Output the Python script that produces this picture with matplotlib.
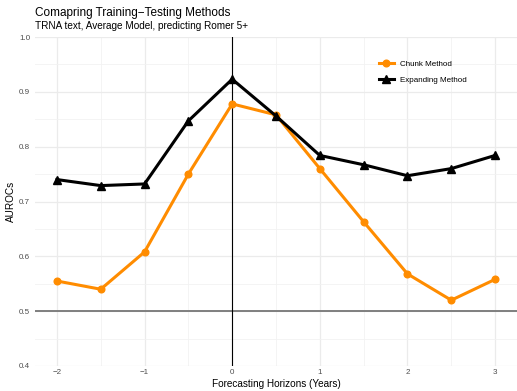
import matplotlib.pyplot as plt
from matplotlib.ticker import MultipleLocator

plt.rcParams['font.family'] = ['Liberation Sans', 'DejaVu Sans']

# forecasting horizons in years
horizons = [-2, -1.5, -1, -0.5, 0, 0.5, 1, 1.5, 2, 2.5, 3]

# AUROC per training-testing scheme
chunk_auroc = [0.555, 0.540, 0.608, 0.750, 0.878, 0.858, 0.760, 0.663, 0.568, 0.520, 0.558]
expanding_auroc = [0.740, 0.729, 0.732, 0.847, 0.923, 0.856, 0.784, 0.767, 0.747, 0.760, 0.784]

x_ticks = [-2, -1, 0, 1, 2, 3]
y_ticks = [0.4, 0.5, 0.6, 0.7, 0.8, 0.9, 1.0]

W, H = 517, 391
left, top, bottom = 35, 37, 366
fig = plt.figure(figsize=(W / 100, H / 100), dpi=100)
ax = fig.add_axes([left / W, (H - bottom) / H, (W - left) / W, (bottom - top) / H])

ax.set_xlim(-2.25, 3.25)
ax.set_ylim(0.4, 1.0)
ax.set_xticks(x_ticks)
ax.set_yticks(y_ticks)
ax.xaxis.set_minor_locator(MultipleLocator(0.5))
ax.yaxis.set_minor_locator(MultipleLocator(0.05))
ax.set_xticklabels([f"{t}".replace('-', '\u2212') for t in x_ticks])
ax.set_yticklabels([f"{t:.1f}" for t in y_ticks])

ax.grid(True, which='major', color='#EBEBEB', lw=0.9)
ax.grid(True, which='minor', color='#F2F2F2', lw=0.6)
ax.set_axisbelow(True)
for s in ax.spines.values():
    s.set_visible(False)
ax.tick_params(which='both', length=0, labelsize=5.8, labelcolor='#4D4D4D')
ax.tick_params(axis='x', pad=2.5)
ax.tick_params(axis='y', pad=3.5)

# reference lines
ax.axhline(0.5, color='#7F7F7F', lw=1.4, zorder=1)
ax.axvline(0, color='black', lw=0.8, zorder=1)

ax.plot(horizons, chunk_auroc, color='#FF8C00', lw=2.2, marker='o', ms=4.8,
        label='Chunk Method', zorder=3)
ax.plot(horizons, expanding_auroc, color='black', lw=2.2, marker='^', ms=5.3,
        label='Expanding Method', zorder=3)

leg = fig.legend(loc='upper left', bbox_to_anchor=(379 / W, 1 - 60 / H), frameon=False,
                 fontsize=5.8, handlelength=1.8, labelspacing=1.1, handletextpad=0.8,
                 borderpad=0, borderaxespad=0)

ax.set_xlabel('Forecasting Horizons (Years)', fontsize=7.2, labelpad=2)
ax.set_ylabel('AUROCs', fontsize=7.2, labelpad=2)

fig.text(left / W, 1 - 16 / H, 'Comapring Training\u2212Testing Methods', fontsize=8.5)
fig.text(left / W, 1 - 29 / H, 'TRNA text, Average Model, predicting Romer 5+', fontsize=7.2)

fig.savefig('out.png', dpi=100)
